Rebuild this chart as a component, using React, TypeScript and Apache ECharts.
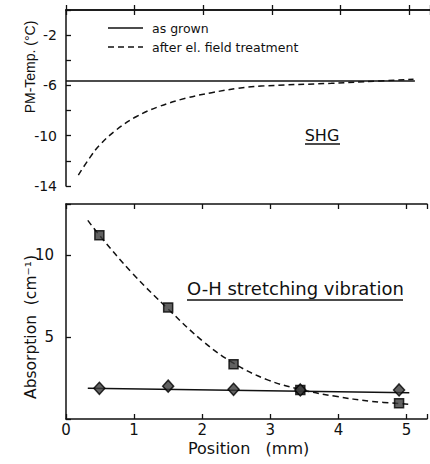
import { useEffect, useRef } from 'react';
import * as echarts from 'echarts';

// ---- Top panel: phase-matching temperature (SHG) ----
const topAsGrownPos = [0, 5.08];
const topAsGrownTemp = [-5.65, -5.65];
const topAfterPos = [0.18, 0.34, 0.49, 0.73, 1.02, 1.35, 1.74, 2.12, 2.5, 2.84, 3.86, 4.34, 5.06];
const topAfterTemp = [-13.13, -11.8, -10.74, -9.55, -8.49, -7.69, -7.02, -6.58, -6.23, -6.05, -5.83, -5.7, -5.51];

// ---- Bottom panel: O-H absorption ----
const samplePos = [0.49, 1.5, 2.46, 3.44, 4.89];
const absAsGrown = [1.87, 2.0, 1.81, 1.77, 1.77];
const absAfter = [11.2, 6.8, 3.34, 1.77, 0.96];
const fitAsGrownPos = [0.32, 5.04];
const fitAsGrownAbs = [1.87, 1.6];
const fitAfterPos = [0.32, 0.49, 0.97, 1.5, 2.02, 2.46, 2.95, 3.44, 3.96, 4.48, 5.04];
const fitAfterAbs = [12.1, 11.2, 8.9, 6.7, 4.7, 3.4, 2.4, 1.8, 1.38, 1.08, 0.9];

// ---- tick labels ----
const topYTickLabels = [-2, -6, -10, -14];
const bottomYTickLabels = [5, 10];
const xTickLabels = [0, 1, 2, 3, 4, 5];

const legendNames = ['as grown', 'after el. field treatment'];

const zip = (xs: number[], ys: number[]) => xs.map((x, i) => [x, ys[i]]);

const FONT = 'DejaVu Sans, Verdana, sans-serif';
const NARROW = 'Liberation Sans Narrow, Liberation Sans, Arial, sans-serif';
const INK = '#111';

export default function App() {
  const ref = useRef<HTMLDivElement>(null);
  useEffect(() => {
    if (!ref.current) return;
    const chart = echarts.init(ref.current, null, { renderer: 'svg' });
    const axisLine = { show: true, lineStyle: { color: INK, width: 1.5 } };
    const tickIn = { show: true, inside: true, length: 5, lineStyle: { color: INK, width: 1.3 } };
    const xBase = (gridIndex: number, position: 'top' | 'bottom', labels: boolean) => ({
      type: 'value',
      gridIndex,
      position,
      min: 0,
      max: 5.3,
      interval: 1,
      axisLine,
      axisTick: tickIn,
      splitLine: { show: false },
      axisLabel: labels
        ? {
            show: true,
            color: INK,
            fontSize: 15,
            fontFamily: FONT,
            margin: 3,
            formatter: (v: number) => (xTickLabels.includes(v) ? String(v) : ''),
          }
        : { show: false },
    });
    const line = (name: string, data: number[][], dashed: boolean, x: number, y: number, smooth: any = true) => ({
      type: 'line',
      name,
      xAxisIndex: x,
      yAxisIndex: y,
      data,
      symbol: 'none',
      smooth,
      lineStyle: { color: INK, width: 1.5, type: dashed ? [6, 4] : 'solid' },
      itemStyle: { color: INK },
      z: 3,
    });
    const marks = (name: string, data: number[][], symbol: string, size: any, y: number) => ({
      type: 'scatter',
      name,
      xAxisIndex: 2,
      yAxisIndex: y,
      data,
      symbol,
      symbolSize: size,
      itemStyle: { color: '#3a3a3a', borderColor: '#000', borderWidth: 1.5 },
      z: 5,
    });

    chart.setOption({
      animation: false,
      backgroundColor: '#fff',
      textStyle: { fontFamily: FONT, color: INK },
      grid: [
        { left: 66, top: 10, width: 368, height: 176 },
        { left: 66, top: 204, width: 368, height: 215 },
      ],
      xAxis: [
        xBase(0, 'bottom', false),
        xBase(0, 'top', false),
        xBase(1, 'bottom', true),
        xBase(1, 'top', false),
      ],
      yAxis: [
        {
          type: 'value',
          gridIndex: 0,
          min: -14,
          max: 0,
          interval: 2,
          axisLine,
          axisTick: tickIn,
          splitLine: { show: false },
          axisLabel: {
            color: INK,
            fontSize: 14,
            fontFamily: FONT,
            margin: 9,
            formatter: (v: number) => (topYTickLabels.includes(v) ? String(v) : ''),
          },
        },
        {
          type: 'value',
          gridIndex: 1,
          min: 0,
          max: 13.1,
          interval: 5,
          axisLine,
          axisTick: tickIn,
          splitLine: { show: false },
          axisLabel: {
            color: INK,
            fontSize: 15,
            fontFamily: FONT,
            margin: 12,
            formatter: (v: number) => (bottomYTickLabels.includes(v) ? String(v) : ''),
          },
        },
      ],
      series: [
        line(legendNames[0], zip(topAsGrownPos, topAsGrownTemp), false, 0, 0, false),
        line(legendNames[1], zip(topAfterPos, topAfterTemp), true, 0, 0, 0.4),
        line('fit as grown', zip(fitAsGrownPos, fitAsGrownAbs), false, 2, 1, false),
        line('fit after', zip(fitAfterPos, fitAfterAbs), true, 2, 1, 0.4),
        marks('abs after', zip(samplePos, absAfter), 'rect', 9, 1),
        marks('abs as grown', zip(samplePos, absAsGrown), 'diamond', [11, 12], 1),
      ],
      graphic: [
        // legend
        { type: 'line', shape: { x1: 108, y1: 28, x2: 143, y2: 28 }, style: { stroke: INK, lineWidth: 1.5 } },
        {
          type: 'text',
          x: 152,
          y: 28,
          style: { text: legendNames[0], fontSize: 12.5, fontFamily: FONT, fill: INK, verticalAlign: 'middle' },
        },
        {
          type: 'line',
          shape: { x1: 108, y1: 47, x2: 143, y2: 47 },
          style: { stroke: INK, lineWidth: 1.5, lineDash: [6, 4] },
        },
        {
          type: 'text',
          x: 152,
          y: 47,
          style: { text: legendNames[1], fontSize: 12.5, fontFamily: FONT, fill: INK, verticalAlign: 'middle' },
        },
        {
          type: 'text',
          x: 30,
          y: 67,
          rotation: Math.PI / 2,
          style: {
            text: 'PM-Temp. (°C)',
            fontSize: 14,
            fontFamily: NARROW,
            fill: INK,
            align: 'center',
            verticalAlign: 'middle',
          },
        },
        {
          type: 'text',
          x: 31,
          y: 327,
          rotation: Math.PI / 2,
          style: {
            text: 'Absorption  (cm⁻¹)',
            fontSize: 15.5,
            fontFamily: FONT,
            fill: INK,
            align: 'center',
            verticalAlign: 'middle',
          },
        },
        {
          type: 'text',
          x: 188,
          y: 448,
          style: {
            text: 'Position   (mm)',
            fontSize: 16,
            fontFamily: FONT,
            fill: INK,
            verticalAlign: 'middle',
          },
        },
        {
          type: 'text',
          x: 322,
          y: 135,
          style: { text: 'SHG', fontSize: 16, fontFamily: FONT, fill: INK, align: 'center', verticalAlign: 'middle' },
        },
        { type: 'line', shape: { x1: 305, y1: 144, x2: 340, y2: 144 }, style: { stroke: INK, lineWidth: 1.5 } },
        {
          type: 'text',
          x: 187,
          y: 288,
          style: {
            text: 'O-H stretching vibration',
            fontSize: 18,
            fontFamily: FONT,
            fill: INK,
            verticalAlign: 'middle',
          },
        },
        { type: 'line', shape: { x1: 187, y1: 300, x2: 403, y2: 300 }, style: { stroke: INK, lineWidth: 1.5 } },
      ],
    });
    return () => chart.dispose();
  }, []);
  return (
    <div
      ref={ref}
      style={{ position: 'fixed', left: 0, top: 0, width: 430, height: 464, background: '#fff' }}
    />
  );
}
